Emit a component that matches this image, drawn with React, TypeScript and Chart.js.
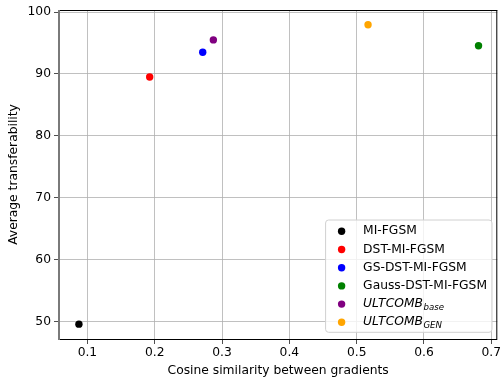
import React, { useEffect, useRef } from "react";
import { Chart, registerables } from "chart.js";

Chart.register(...registerables);

const methods = ["MI-FGSM", "DST-MI-FGSM", "GS-DST-MI-FGSM", "Gauss-DST-MI-FGSM", "ULTCOMB_base", "ULTCOMB_GEN"];
const legendMain = ["MI-FGSM", "DST-MI-FGSM", "GS-DST-MI-FGSM", "Gauss-DST-MI-FGSM", "ULTCOMB", "ULTCOMB"];
const legendSub = ["", "", "", "", "base", "GEN"];
const legendItalic = [false, false, false, false, true, true];
const cosineSimilarity = [0.0874, 0.1925, 0.2713, 0.681, 0.2871, 0.5169];
const transferability = [49.6, 89.5, 93.5, 94.55, 95.5, 97.95];
const pointColors = ["black", "red", "blue", "green", "purple", "orange"];
const xTicks = [0.1, 0.2, 0.3, 0.4, 0.5, 0.6, 0.7];
const xTickLabels = ["0.1", "0.2", "0.3", "0.4", "0.5", "0.6", "0.7"];
const yTicks = [50, 60, 70, 80, 90, 100];
const yTickLabels = ["50", "60", "70", "80", "90", "100"];

const FONT = "DejaVu Sans";
const FS = 12.3;

const framePlugin = {
  id: "frame",
  afterDatasetsDraw(chart: any) {
    const { ctx, chartArea: a } = chart;
    ctx.save();
    ctx.strokeStyle = "#000";
    ctx.lineWidth = 1;
    ctx.beginPath();
    ctx.moveTo(a.left, a.top + 0.5);
    ctx.lineTo(a.right, a.top + 0.5);
    ctx.moveTo(a.right - 0.5, a.top);
    ctx.lineTo(a.right - 0.5, a.bottom);
    ctx.moveTo(a.left, a.bottom + 0.5);
    ctx.lineTo(a.right, a.bottom + 0.5);
    ctx.stroke();
    ctx.strokeStyle = "#7a7a7a";
    ctx.lineWidth = 2;
    ctx.beginPath();
    ctx.moveTo(a.left, a.top);
    ctx.lineTo(a.left, a.bottom + 1);
    ctx.stroke();
    ctx.restore();
  },
};

const legendPlugin = {
  id: "insideLegend",
  afterDraw(chart: any) {
    const { ctx, chartArea: a } = chart;
    ctx.save();
    const mainFont = (it: boolean) => `${it ? "italic " : ""}${FS}px "${FONT}"`;
    const subFont = (it: boolean) => `${it ? "italic " : ""}${FS * 0.7}px "${FONT}"`;
    const widths = legendMain.map((t, i) => {
      ctx.font = mainFont(legendItalic[i]);
      let w = ctx.measureText(t).width;
      if (legendSub[i]) {
        ctx.font = subFont(legendItalic[i]);
        w += ctx.measureText(legendSub[i]).width;
      }
      return w;
    });
    const maxW = Math.max(...widths);
    const n = legendMain.length;
    const rowH = 18.2;
    const padTop = 11.3;
    const padBottom = 10;
    const h = padTop + rowH * (n - 1) + padBottom;
    const w = 37.5 + maxW + 5;
    const x0 = a.right - 5.3 - w;
    const y0 = a.bottom - 6.7 - h;
    ctx.beginPath();
    const r = 3;
    ctx.moveTo(x0 + r, y0);
    ctx.arcTo(x0 + w, y0, x0 + w, y0 + h, r);
    ctx.arcTo(x0 + w, y0 + h, x0, y0 + h, r);
    ctx.arcTo(x0, y0 + h, x0, y0, r);
    ctx.arcTo(x0, y0, x0 + w, y0, r);
    ctx.closePath();
    ctx.fillStyle = "rgba(255,255,255,0.8)";
    ctx.fill();
    ctx.strokeStyle = "#d0d0d0";
    ctx.lineWidth = 1;
    ctx.stroke();
    for (let i = 0; i < n; i++) {
      const cy = y0 + padTop + rowH * i;
      ctx.beginPath();
      ctx.arc(x0 + 16, cy, 3.7, 0, Math.PI * 2);
      ctx.fillStyle = pointColors[i];
      ctx.fill();
      ctx.fillStyle = "#000";
      ctx.textBaseline = "middle";
      ctx.textAlign = "left";
      ctx.font = mainFont(legendItalic[i]);
      const tx = x0 + 37.5;
      ctx.fillText(legendMain[i], tx, cy);
      if (legendSub[i]) {
        const mw = ctx.measureText(legendMain[i]).width;
        ctx.font = subFont(legendItalic[i]);
        ctx.fillText(legendSub[i], tx + mw + 0.5, cy + 3.8);
      }
    }
    ctx.restore();
  },
};

export default function App() {
  const ref = useRef<HTMLCanvasElement | null>(null);
  useEffect(() => {
    if (!ref.current) return;
    const chart = new Chart(ref.current, {
      type: "scatter",
      data: {
        datasets: methods.map((m, i) => ({
          label: m,
          data: [{ x: cosineSimilarity[i], y: transferability[i] }],
          backgroundColor: pointColors[i],
          borderColor: pointColors[i],
          borderWidth: 0,
          pointRadius: 3.7,
          pointHoverRadius: 3.7,
        })),
      },
      options: {
        responsive: false,
        animation: false,
        devicePixelRatio: 1,
        layout: { padding: { top: 10, right: 1.7, left: 0, bottom: 0 } },
        plugins: { legend: { display: false }, tooltip: { enabled: false }, title: { display: false } },
        scales: {
          x: {
            type: "linear",
            min: 0.0578,
            max: 0.7089,
            afterBuildTicks: (s: any) => {
              s.ticks = xTicks.map((v) => ({ value: v }));
            },
            afterFit: (s: any) => {
              s.height = 39;
              s.paddingLeft = 0;
              s.paddingRight = 0;
            },
            ticks: {
              autoSkip: false,
              maxRotation: 0,
              padding: 1,
              color: "#000",
              font: { family: FONT, size: FS },
              callback: (v: any, i: number) => xTickLabels[i],
            },
            grid: { color: "#b0b0b0", lineWidth: 0.8, tickLength: 5, tickColor: "#222", drawTicks: true },
            border: { display: false },
            title: {
              display: true,
              text: "Cosine similarity between gradients",
              color: "#000",
              font: { family: FONT, size: FS, lineHeight: 1.2 },
              padding: { top: 0, bottom: 0 },
            },
          },
          y: {
            type: "linear",
            min: 47.2,
            max: 100.33,
            afterBuildTicks: (s: any) => {
              s.ticks = yTicks.map((v) => ({ value: v }));
            },
            afterFit: (s: any) => {
              s.width = 59;
              s.paddingTop = 0;
              s.paddingBottom = 0;
            },
            ticks: {
              autoSkip: false,
              padding: 3,
              color: "#000",
              font: { family: FONT, size: FS },
              callback: (v: any, i: number) => yTickLabels[i],
            },
            grid: { color: "#b0b0b0", lineWidth: 0.8, tickLength: 5, tickColor: "#222", drawTicks: true },
            border: { display: false },
            title: {
              display: true,
              text: "Average transferability",
              color: "#000",
              font: { family: FONT, size: FS, lineHeight: 1.2 },
              padding: { top: 6.6, bottom: 0 },
            },
          },
        },
      },
      plugins: [framePlugin, legendPlugin],
    });
    return () => chart.destroy();
  }, []);
  return (
    <div style={{ position: "absolute", left: 0, top: 0, width: 501, height: 378, background: "#fff" }}>
      <canvas ref={ref} width={501} height={378} style={{ display: "block", width: 501, height: 378 }} />
    </div>
  );
}
